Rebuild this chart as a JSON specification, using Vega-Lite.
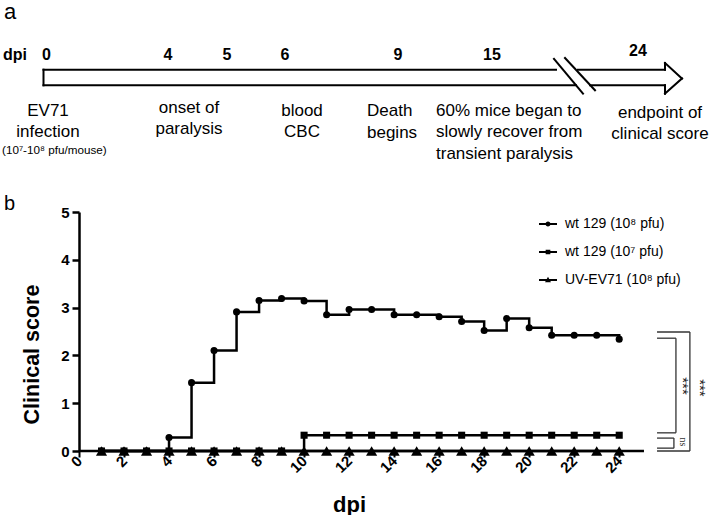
{
  "$schema": "https://vega.github.io/schema/vega-lite/v6.json",
  "background": "white",
  "padding": {"left": 2, "top": 0, "right": 0, "bottom": 0},
  "autosize": {"type": "pad"},
  "spacing": 24,
  "bounds": "flush",
  "config": {"view": {"stroke": null}, "font": "Liberation Sans"},
  "datasets": {
    "seg": [
      {"x": 43.5, "x2": 43.5, "y": 66.7, "y2": 82.3},
      {"x": 43.5, "x2": 556, "y": 66.7, "y2": 66.7},
      {"x": 43.5, "x2": 576, "y": 82.3, "y2": 82.3},
      {"x": 554, "x2": 583, "y": 56, "y2": 90.7},
      {"x": 565, "x2": 595, "y": 55, "y2": 87.3},
      {"x": 578, "x2": 665, "y": 66.7, "y2": 66.7},
      {"x": 590, "x2": 665, "y": 82.3, "y2": 82.3},
      {"x": 665, "x2": 665, "y": 60, "y2": 66.7},
      {"x": 665, "x2": 665, "y": 82.3, "y2": 90.7},
      {"x": 665, "x2": 682, "y": 60, "y2": 75.5},
      {"x": 682, "x2": 665, "y": 75.5, "y2": 90.7}
    ],
    "days": [
      {"x": 46.5, "y": 57, "t": "0"},
      {"x": 168, "y": 57, "t": "4"},
      {"x": 227, "y": 57, "t": "5"},
      {"x": 285, "y": 57, "t": "6"},
      {"x": 398, "y": 57, "t": "9"},
      {"x": 492, "y": 57, "t": "15"},
      {"x": 638, "y": 53, "t": "24"}
    ],
    "notesC": [
      {"x": 48, "y": 113, "lines": ["EV71", "infection"]},
      {"x": 189, "y": 110, "lines": ["onset of", "paralysis"]},
      {"x": 302, "y": 113, "lines": ["blood", "CBC"]},
      {"x": 660, "y": 115, "lines": ["endpoint of", "clinical score"]}
    ],
    "notesL": [
      {"x": 367, "y": 113, "lines": ["Death", "begins"]},
      {"x": 436, "y": 112.7, "lines": ["60% mice began to", "slowly recover from", "transient paralysis"]}
    ],
    "scores": [
      {"series": "wt 129 (10⁸ pfu)", "dpi": 1, "score": 0},
      {"series": "wt 129 (10⁸ pfu)", "dpi": 2, "score": 0},
      {"series": "wt 129 (10⁸ pfu)", "dpi": 3, "score": 0},
      {"series": "wt 129 (10⁸ pfu)", "dpi": 4, "score": 0.28},
      {"series": "wt 129 (10⁸ pfu)", "dpi": 5, "score": 1.43},
      {"series": "wt 129 (10⁸ pfu)", "dpi": 6, "score": 2.1},
      {"series": "wt 129 (10⁸ pfu)", "dpi": 7, "score": 2.91},
      {"series": "wt 129 (10⁸ pfu)", "dpi": 8, "score": 3.15},
      {"series": "wt 129 (10⁸ pfu)", "dpi": 9, "score": 3.19},
      {"series": "wt 129 (10⁸ pfu)", "dpi": 10, "score": 3.14},
      {"series": "wt 129 (10⁸ pfu)", "dpi": 11, "score": 2.85},
      {"series": "wt 129 (10⁸ pfu)", "dpi": 12, "score": 2.96},
      {"series": "wt 129 (10⁸ pfu)", "dpi": 13, "score": 2.96},
      {"series": "wt 129 (10⁸ pfu)", "dpi": 14, "score": 2.85},
      {"series": "wt 129 (10⁸ pfu)", "dpi": 15, "score": 2.85},
      {"series": "wt 129 (10⁸ pfu)", "dpi": 16, "score": 2.81},
      {"series": "wt 129 (10⁸ pfu)", "dpi": 17, "score": 2.71},
      {"series": "wt 129 (10⁸ pfu)", "dpi": 18, "score": 2.52},
      {"series": "wt 129 (10⁸ pfu)", "dpi": 19, "score": 2.77},
      {"series": "wt 129 (10⁸ pfu)", "dpi": 20, "score": 2.58},
      {"series": "wt 129 (10⁸ pfu)", "dpi": 21, "score": 2.42},
      {"series": "wt 129 (10⁸ pfu)", "dpi": 22, "score": 2.42},
      {"series": "wt 129 (10⁸ pfu)", "dpi": 23, "score": 2.42},
      {"series": "wt 129 (10⁸ pfu)", "dpi": 24, "score": 2.34},
      {"series": "wt 129 (10⁷ pfu)", "dpi": 1, "score": 0},
      {"series": "wt 129 (10⁷ pfu)", "dpi": 2, "score": 0},
      {"series": "wt 129 (10⁷ pfu)", "dpi": 3, "score": 0},
      {"series": "wt 129 (10⁷ pfu)", "dpi": 4, "score": 0},
      {"series": "wt 129 (10⁷ pfu)", "dpi": 5, "score": 0},
      {"series": "wt 129 (10⁷ pfu)", "dpi": 6, "score": 0},
      {"series": "wt 129 (10⁷ pfu)", "dpi": 7, "score": 0},
      {"series": "wt 129 (10⁷ pfu)", "dpi": 8, "score": 0},
      {"series": "wt 129 (10⁷ pfu)", "dpi": 9, "score": 0},
      {"series": "wt 129 (10⁷ pfu)", "dpi": 10, "score": 0.33},
      {"series": "wt 129 (10⁷ pfu)", "dpi": 11, "score": 0.33},
      {"series": "wt 129 (10⁷ pfu)", "dpi": 12, "score": 0.33},
      {"series": "wt 129 (10⁷ pfu)", "dpi": 13, "score": 0.33},
      {"series": "wt 129 (10⁷ pfu)", "dpi": 14, "score": 0.33},
      {"series": "wt 129 (10⁷ pfu)", "dpi": 15, "score": 0.33},
      {"series": "wt 129 (10⁷ pfu)", "dpi": 16, "score": 0.33},
      {"series": "wt 129 (10⁷ pfu)", "dpi": 17, "score": 0.33},
      {"series": "wt 129 (10⁷ pfu)", "dpi": 18, "score": 0.33},
      {"series": "wt 129 (10⁷ pfu)", "dpi": 19, "score": 0.33},
      {"series": "wt 129 (10⁷ pfu)", "dpi": 20, "score": 0.33},
      {"series": "wt 129 (10⁷ pfu)", "dpi": 21, "score": 0.33},
      {"series": "wt 129 (10⁷ pfu)", "dpi": 22, "score": 0.33},
      {"series": "wt 129 (10⁷ pfu)", "dpi": 23, "score": 0.33},
      {"series": "wt 129 (10⁷ pfu)", "dpi": 24, "score": 0.33},
      {"series": "UV-EV71 (10⁸ pfu)", "dpi": 1, "score": 0},
      {"series": "UV-EV71 (10⁸ pfu)", "dpi": 2, "score": 0},
      {"series": "UV-EV71 (10⁸ pfu)", "dpi": 3, "score": 0},
      {"series": "UV-EV71 (10⁸ pfu)", "dpi": 4, "score": 0},
      {"series": "UV-EV71 (10⁸ pfu)", "dpi": 5, "score": 0},
      {"series": "UV-EV71 (10⁸ pfu)", "dpi": 6, "score": 0},
      {"series": "UV-EV71 (10⁸ pfu)", "dpi": 7, "score": 0},
      {"series": "UV-EV71 (10⁸ pfu)", "dpi": 8, "score": 0},
      {"series": "UV-EV71 (10⁸ pfu)", "dpi": 9, "score": 0},
      {"series": "UV-EV71 (10⁸ pfu)", "dpi": 10, "score": 0},
      {"series": "UV-EV71 (10⁸ pfu)", "dpi": 11, "score": 0},
      {"series": "UV-EV71 (10⁸ pfu)", "dpi": 12, "score": 0},
      {"series": "UV-EV71 (10⁸ pfu)", "dpi": 13, "score": 0},
      {"series": "UV-EV71 (10⁸ pfu)", "dpi": 14, "score": 0},
      {"series": "UV-EV71 (10⁸ pfu)", "dpi": 15, "score": 0},
      {"series": "UV-EV71 (10⁸ pfu)", "dpi": 16, "score": 0},
      {"series": "UV-EV71 (10⁸ pfu)", "dpi": 17, "score": 0},
      {"series": "UV-EV71 (10⁸ pfu)", "dpi": 18, "score": 0},
      {"series": "UV-EV71 (10⁸ pfu)", "dpi": 19, "score": 0},
      {"series": "UV-EV71 (10⁸ pfu)", "dpi": 20, "score": 0},
      {"series": "UV-EV71 (10⁸ pfu)", "dpi": 21, "score": 0},
      {"series": "UV-EV71 (10⁸ pfu)", "dpi": 22, "score": 0},
      {"series": "UV-EV71 (10⁸ pfu)", "dpi": 23, "score": 0},
      {"series": "UV-EV71 (10⁸ pfu)", "dpi": 24, "score": 0}
    ],
    "brackets": [
      {"dpi": 25.68, "dpi2": 27.14, "score": 2.49, "score2": 2.49},
      {"dpi": 27.14, "dpi2": 27.14, "score": 2.49, "score2": 0},
      {"dpi": 25.68, "dpi2": 27.14, "score": 0, "score2": 0},
      {"dpi": 25.68, "dpi2": 26.52, "score": 2.36, "score2": 2.36},
      {"dpi": 26.52, "dpi2": 26.52, "score": 2.36, "score2": 0.38},
      {"dpi": 25.68, "dpi2": 26.52, "score": 0.38, "score2": 0.38},
      {"dpi": 25.68, "dpi2": 26.43, "score": 0.27, "score2": 0.27},
      {"dpi": 26.43, "dpi2": 26.43, "score": 0.27, "score2": 0.06},
      {"dpi": 25.68, "dpi2": 26.43, "score": 0.06, "score2": 0.06}
    ],
    "sig": [
      {"dpi": 26.85, "score": 1.36, "label": "***"},
      {"dpi": 27.6, "score": 1.32, "label": "***"}
    ]
  },
  "vconcat": [
    {
      "width": 628,
      "height": 185,
      "encoding": {
        "x": {"field": "x", "type": "quantitative", "scale": {"domain": [79, 707], "nice": false, "zero": false}, "axis": null},
        "y": {"field": "y", "type": "quantitative", "scale": {"domain": [0, 185], "nice": false, "zero": false, "reverse": true}, "axis": null}
      },
      "layer": [
        {
          "data": {"name": "seg"},
          "mark": {"type": "rule", "color": "black", "strokeWidth": 2, "strokeCap": "square"},
          "encoding": {"x2": {"field": "x2"}, "y2": {"field": "y2"}}
        },
        {
          "data": {"name": "days"},
          "mark": {"type": "text", "fontSize": 16, "fontWeight": "bold", "align": "center", "baseline": "alphabetic", "color": "black"},
          "encoding": {"text": {"field": "t"}}
        },
        {
          "data": {"values": [{"x": 3, "y": 57, "t": "dpi"}]},
          "mark": {"type": "text", "fontSize": 16, "fontWeight": "bold", "align": "left", "baseline": "alphabetic", "color": "black"},
          "encoding": {"text": {"field": "t"}}
        },
        {
          "data": {"values": [{"x": 4, "y": 15.5, "t": "a"}]},
          "mark": {"type": "text", "fontSize": 22, "align": "left", "baseline": "alphabetic", "color": "black"},
          "encoding": {"text": {"field": "t"}}
        },
        {
          "data": {"name": "notesC"},
          "mark": {"type": "text", "fontSize": 17, "lineHeight": 20.5, "align": "center", "baseline": "alphabetic", "color": "black"},
          "encoding": {"text": {"field": "lines"}}
        },
        {
          "data": {"name": "notesL"},
          "mark": {"type": "text", "fontSize": 17, "lineHeight": 21.5, "align": "left", "baseline": "alphabetic", "color": "black"},
          "encoding": {"text": {"field": "lines"}}
        },
        {
          "data": {"values": [{"x": 2, "y": 150.5, "t": "(10⁷-10⁸ pfu/mouse)"}]},
          "mark": {"type": "text", "fontSize": 11.7, "align": "left", "baseline": "alphabetic", "color": "black"},
          "encoding": {"text": {"field": "t"}}
        }
      ]
    },
    {
      "width": 628,
      "height": 239,
      "encoding": {
        "x": {
          "field": "dpi", "type": "quantitative",
          "scale": {"domain": [0, 27.9], "nice": false, "zero": false},
          "axis": {
            "values": [0, 2, 4, 6, 8, 10, 12, 14, 16, 18, 20, 22, 24],
            "domain": false, "grid": false, "ticks": true, "tickColor": "black", "tickWidth": 2, "tickSize": 6,
            "labelAngle": -45, "labelAlign": "right", "labelBaseline": "middle", "labelPadding": 1,
            "labelFont": "Liberation Sans", "labelFontSize": 15, "labelFontWeight": "bold", "labelColor": "black",
            "labelFlush": false, "labelOverlap": false, "labelBound": false,
            "title": "dpi", "titleFont": "Liberation Sans", "titleFontSize": 22, "titleFontWeight": "bold", "titleColor": "black",
            "titleX": 270, "titleY": 60, "titleAlign": "center", "titleBaseline": "alphabetic"
          }
        },
        "y": {
          "field": "score", "type": "quantitative",
          "scale": {"domain": [0, 5], "nice": false, "zero": false},
          "axis": {
            "values": [0, 1, 2, 3, 4, 5],
            "grid": false, "domainColor": "black", "domainWidth": 2.5, "tickColor": "black", "tickWidth": 2.5, "tickSize": 7,
            "labelPadding": 3, "labelFont": "Liberation Sans", "labelFontSize": 15, "labelFontWeight": "bold", "labelColor": "black",
            "labelFlush": false, "labelOverlap": false,
            "title": "Clinical score", "titleFont": "Liberation Sans", "titleFontSize": 21.5, "titleFontWeight": "bold", "titleColor": "black",
            "titleAngle": -90, "titleX": -41, "titleY": 142, "titleAlign": "center", "titleBaseline": "alphabetic"
          }
        }
      },
      "layer": [
        {
          "data": {"values": [{"dpi": 0, "dpi2": 25.1, "score": 0}]},
          "mark": {"type": "rule", "color": "black", "strokeWidth": 2.5},
          "encoding": {"x2": {"field": "dpi2"}}
        },
        {
          "data": {"name": "scores"},
          "mark": {"type": "line", "interpolate": "step-after", "color": "black", "strokeWidth": 2.5},
          "encoding": {"detail": {"field": "series"}}
        },
        {
          "data": {"name": "scores"},
          "transform": [{"filter": "datum.series === 'UV-EV71 (10⁸ pfu)'"}],
          "mark": {"type": "point", "shape": "triangle-up", "filled": true, "color": "black", "opacity": 1, "size": 125},
          "encoding": {}
        },
        {
          "data": {"name": "scores"},
          "transform": [{"filter": "datum.series === 'wt 129 (10⁷ pfu)'"}],
          "mark": {"type": "point", "shape": "square", "filled": true, "color": "black", "opacity": 1, "size": 50},
          "encoding": {}
        },
        {
          "data": {"name": "scores"},
          "transform": [{"filter": "datum.series === 'wt 129 (10⁸ pfu)'"}],
          "mark": {"type": "point", "shape": "circle", "filled": true, "color": "black", "opacity": 1, "size": 50},
          "encoding": {}
        },
        {
          "data": {"name": "scores"},
          "mark": {"type": "point", "filled": true, "color": "black", "opacity": 0},
          "encoding": {
            "shape": {
              "field": "series", "type": "nominal",
              "scale": {
                "domain": ["wt 129 (10⁸ pfu)", "wt 129 (10⁷ pfu)", "UV-EV71 (10⁸ pfu)"],
                "range": [
                  "M-1,-0.1H1V0.1H-1Z M0.28,0A0.28,0.28,0,1,1,-0.28,0A0.28,0.28,0,1,1,0.28,0Z",
                  "M-1,-0.1H1V0.1H-1Z M-0.26,-0.26H0.26V0.26H-0.26Z",
                  "M-1,-0.1H1V0.1H-1Z M0,-0.36L0.33,0.24H-0.33Z"
                ]
              },
              "legend": {
                "orient": "none", "legendX": 460, "legendY": 212, "title": null, "padding": 0,
                "labelFont": "Liberation Sans", "labelFontSize": 14, "labelColor": "black", "labelOffset": 8,
                "symbolSize": 324, "rowPadding": 12,
                "symbolFillColor": "black", "symbolStrokeColor": "black", "symbolStrokeWidth": 0, "symbolOpacity": 1
              }
            }
          }
        },
        {
          "data": {"name": "brackets"},
          "mark": {"type": "rule", "color": "#333333", "strokeWidth": 1.3},
          "encoding": {"x2": {"field": "dpi2"}, "y2": {"field": "score2"}}
        },
        {
          "data": {"name": "sig"},
          "mark": {"type": "text", "angle": 90, "fontSize": 15, "align": "center", "baseline": "middle", "color": "#222222"},
          "encoding": {"text": {"field": "label"}}
        },
        {
          "data": {"values": [{"dpi": 26.83, "score": 0.19, "label": "ns"}]},
          "mark": {"type": "text", "angle": 90, "font": "Liberation Serif", "fontSize": 10, "align": "center", "baseline": "middle", "color": "#333333"},
          "encoding": {"text": {"field": "label"}}
        },
        {
          "data": {"values": [{"dpi": -3.33, "score": 5.05, "label": "b"}]},
          "mark": {"type": "text", "fontSize": 20, "align": "left", "baseline": "alphabetic", "color": "black"},
          "encoding": {"text": {"field": "label"}}
        }
      ]
    }
  ]
}
